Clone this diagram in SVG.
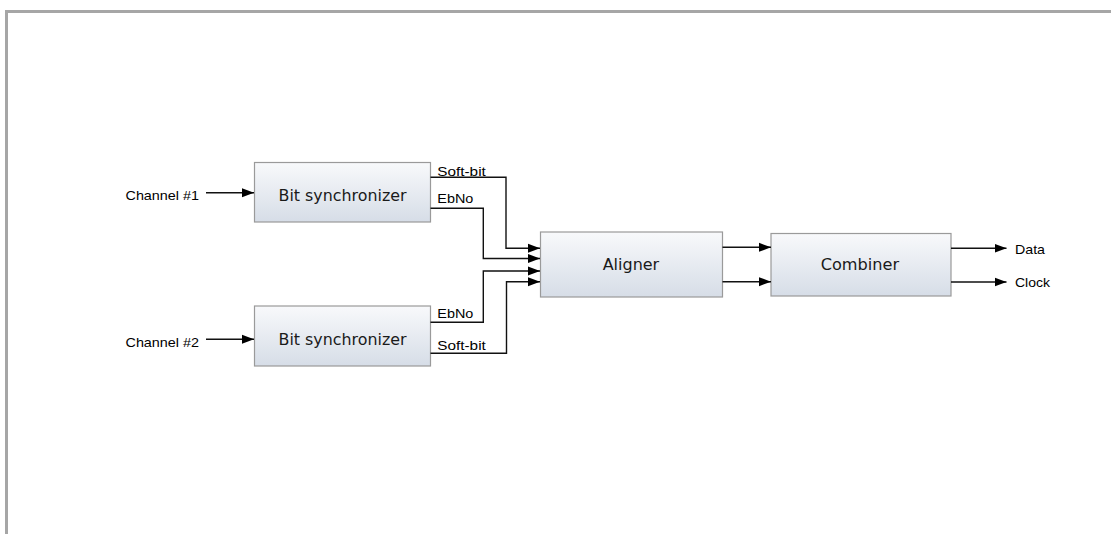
<svg xmlns="http://www.w3.org/2000/svg" width="1111" height="534" viewBox="0 0 1111 534">
<defs>
<linearGradient id="boxfill" x1="0" y1="0" x2="0" y2="1">
<stop offset="0" stop-color="#f8f9fb"/>
<stop offset="1" stop-color="#d6dde7"/>
</linearGradient>
<marker id="arr" markerWidth="12" markerHeight="10" refX="12" refY="5" orient="auto" markerUnits="userSpaceOnUse">
<path d="M0,0.5 L12,5 L0,9.5 Z" fill="#000"/>
</marker>
<style>
.box{fill:url(#boxfill);stroke:#9a9a9a;stroke-width:1.2}
.btxt{font-family:"DejaVu Sans",Verdana,sans-serif;font-size:15px;fill:#1a1a1a}
.lbl{font-family:"Liberation Sans",Arial,sans-serif;font-size:13.5px;fill:#000}
.wire{fill:none;stroke:#111;stroke-width:1.4}
</style>
</defs>
<rect width="1111" height="534" fill="#fff"/>
<path d="M6.5,534 V11.5 H1111" fill="none" stroke="#a6a6a6" stroke-width="3"/>
<g id="bitsync1">
<rect class="box" x="254.5" y="162.5" width="176" height="59.5"/>
<text class="btxt" x="278.5" y="200.5" textLength="128" lengthAdjust="spacingAndGlyphs">Bit synchronizer</text>
</g>
<g id="bitsync2">
<rect class="box" x="254.5" y="306" width="176" height="60"/>
<text class="btxt" x="278.5" y="345" textLength="128" lengthAdjust="spacingAndGlyphs">Bit synchronizer</text>
</g>
<g id="aligner">
<rect class="box" x="540.5" y="232" width="182" height="65"/>
<text class="btxt" x="602.7" y="270" textLength="56.5" lengthAdjust="spacingAndGlyphs">Aligner</text>
</g>
<g id="combiner">
<rect class="box" x="771" y="233.5" width="180" height="62.5"/>
<text class="btxt" x="820.7" y="270" textLength="78.5" lengthAdjust="spacingAndGlyphs">Combiner</text>
</g>
<g id="connectors">
<path class="wire" d="M206,192.7 H254" marker-end="url(#arr)"/>
<path class="wire" d="M206,339.3 H254" marker-end="url(#arr)"/>
<path class="wire" d="M430.5,177.3 H506 V248.2 H540" marker-end="url(#arr)"/>
<path class="wire" d="M430.5,208.3 H483.3 V258.5 H540" marker-end="url(#arr)"/>
<path class="wire" d="M430.5,322.3 H483.3 V271 H540" marker-end="url(#arr)"/>
<path class="wire" d="M430.5,353.3 H506.5 V281.7 H540" marker-end="url(#arr)"/>
<path class="wire" d="M722.5,247.3 H771" marker-end="url(#arr)"/>
<path class="wire" d="M722.5,281.7 H771" marker-end="url(#arr)"/>
<path class="wire" d="M951,248.3 H1006.5" marker-end="url(#arr)"/>
<path class="wire" d="M951,282 H1006.5" marker-end="url(#arr)"/>
</g>
<g id="labels">
<text class="lbl" x="125.5" y="200" textLength="73.5" lengthAdjust="spacingAndGlyphs">Channel #1</text>
<text class="lbl" x="125.5" y="347" textLength="73.5" lengthAdjust="spacingAndGlyphs">Channel #2</text>
<text class="lbl" x="437.3" y="176" textLength="48.5" lengthAdjust="spacingAndGlyphs">Soft-bit</text>
<text class="lbl" x="437.3" y="203.2" textLength="36" lengthAdjust="spacingAndGlyphs">EbNo</text>
<text class="lbl" x="437.3" y="317.5" textLength="36" lengthAdjust="spacingAndGlyphs">EbNo</text>
<text class="lbl" x="437.3" y="350.3" textLength="48.5" lengthAdjust="spacingAndGlyphs">Soft-bit</text>
<text class="lbl" x="1015" y="254" textLength="30" lengthAdjust="spacingAndGlyphs">Data</text>
<text class="lbl" x="1015" y="286.5" textLength="35" lengthAdjust="spacingAndGlyphs">Clock</text>
</g>
</svg>
